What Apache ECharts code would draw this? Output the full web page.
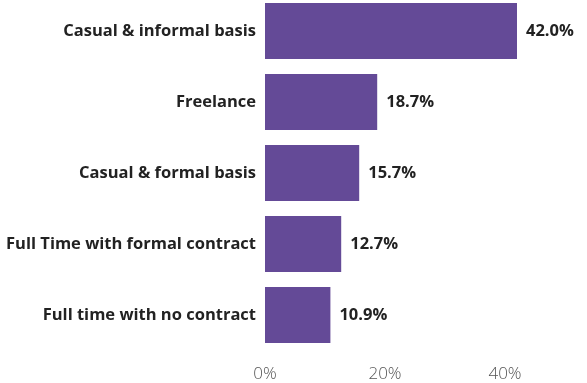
<!DOCTYPE html>
<html>
<head>
<meta charset="utf-8">
<script src="https://cdn.jsdelivr.net/npm/echarts@6/dist/echarts.min.js"></script>
<style>
  html, body { margin: 0; padding: 0; background: #fff; }
  #chart { width: 587px; height: 383px; }
</style>
</head>
<body>
<div id="chart"></div>
<script>
// Employment arrangement shares (percent)
const categories = [
  'Casual & informal basis',
  'Freelance',
  'Casual & formal basis',
  'Full Time with formal contract',
  'Full time with no contract'
];
const shares = [42.0, 18.7, 15.7, 12.7, 10.9];
const tickValues = [0, 20, 40];

const chart = echarts.init(document.getElementById('chart'));
chart.setOption({
  animation: false,
  backgroundColor: '#ffffff',
  grid: {
    left: 265, right: 22, top: -4.5, bottom: 32.5,
    outerBoundsMode: 'none'
  },
  xAxis: {
    type: 'value',
    min: 0,
    max: 50,
    interval: 20,
    axisLine: { show: false },
    axisTick: { show: false },
    splitLine: { show: false },
    axisLabel: {
      margin: 15,
      color: '#555555',
      fontFamily: 'Open Sans',
      fontWeight: 300,
      fontSize: 17,
      formatter: v => tickValues.includes(v) ? v + '%' : ''
    }
  },
  yAxis: {
    type: 'category',
    inverse: true,
    data: categories,
    axisLine: { show: false },
    axisTick: { show: false },
    axisLabel: {
      margin: 9,
      color: '#222222',
      fontFamily: 'Open Sans',
      fontWeight: 'bold',
      fontSize: 16.5
    }
  },
  series: [{
    type: 'bar',
    data: shares,
    barCategoryGap: '21%',
    itemStyle: { color: '#644a97' },
    label: {
      show: true,
      position: 'right',
      distance: 9,
      color: '#222222',
      fontFamily: 'Open Sans',
      fontWeight: 'bold',
      fontSize: 16.5,
      formatter: p => p.value.toFixed(1) + '%'
    }
  }]
});
</script>
</body>
</html>
